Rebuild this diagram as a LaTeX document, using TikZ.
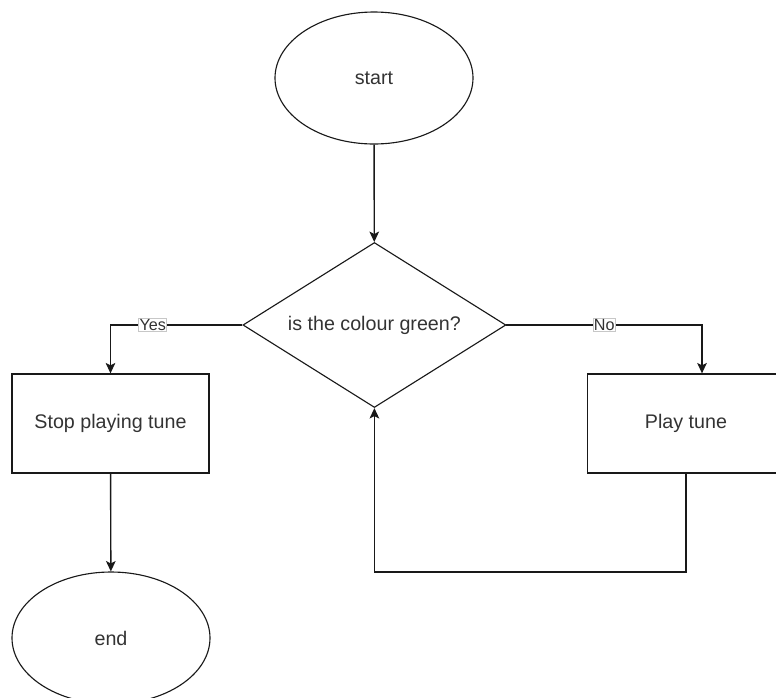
\documentclass[tikz,border=0pt]{standalone}
\usepackage{fontspec}
\setmainfont{Liberation Sans}
\usetikzlibrary{arrows.meta,shapes.geometric,positioning}
\definecolor{LineClr}{rgb}{0.1,0.1,0.1}
\definecolor{TextClr}{rgb}{0.2,0.2,0.2}
\definecolor{TagClr}{rgb}{0.78,0.78,0.78}

\tikzset{
  terminal/.style={draw=LineClr,ellipse,line width=0.8pt,minimum width=4.95cm,minimum height=3.3cm,inner sep=0pt,text=TextClr,font=\fontsize{14}{17}\selectfont},
  process/.style={draw=LineClr,rectangle,line width=0.9pt,minimum width=4.925cm,minimum height=2.475cm,text=TextClr,font=\fontsize{14}{17}\selectfont},
  decision/.style={draw=LineClr,diamond,line width=0.8pt,shape aspect=1.6,inner sep=0pt,minimum width=6.575cm,minimum height=4.125cm,text=TextClr,font=\fontsize{14}{17}\selectfont},
  flow/.style={draw=LineClr,line width=1pt,-{Stealth[length=2.6mm,width=2.4mm,inset=0.6mm]}},
  tag/.style={draw=TagClr,fill=white,inner sep=0.6pt,line width=0.4pt,text=TextClr,font=\fontsize{11.5}{13}\selectfont}
}

\begin{document}
\begin{tikzpicture}
\useasboundingbox (0,0) rectangle (19.4,-17.425);

\node[terminal] (start) at (9.35,-1.95) {start};
\node[decision] (dec) at (9.36,-8.125) {is the colour green?};
\node[process] (stop) at (2.7625,-10.5875) {Stop playing tune};
\node[process] (play) at (17.15,-10.5875) {Play tune};
\node[terminal] (end) at (2.775,-15.95) {end};

\coordinate (turn) at (17.15,-14.3);

\draw[flow] (start) -- (dec);
\draw[flow] (dec.west) -| node[tag,pos=0.34]{Yes} (stop.north);
\draw[flow] (dec.east) -| node[tag,pos=0.25]{No} ([xshift=0.4cm]play.north);
\draw[flow] (play.south) -- (turn) -| (dec.south);
\draw[flow] (stop) -- (end);

\end{tikzpicture}
\end{document}
